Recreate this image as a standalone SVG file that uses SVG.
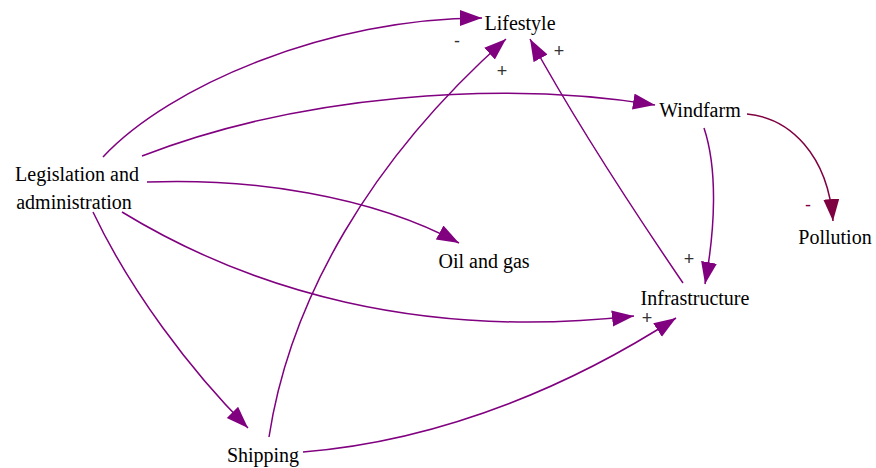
<svg xmlns="http://www.w3.org/2000/svg" width="876" height="468" viewBox="0 0 876 468">
  <style>
    .edge { fill: none; stroke: #800080; stroke-width: 1.5; marker-end: url(#arrow); }
    .edge.neg { stroke: #7f0040; marker-end: url(#arrowDark); }
  </style>
  <defs>
    <marker id="arrow" markerUnits="userSpaceOnUse" markerWidth="24" markerHeight="18" refX="22" refY="8" orient="auto">
      <path d="M0,0 L22,8 L0,16 z" fill="#800080"/>
    </marker>
    <marker id="arrowDark" markerUnits="userSpaceOnUse" markerWidth="24" markerHeight="18" refX="22" refY="8" orient="auto">
      <path d="M0,0 L22,8 L0,16 z" fill="#7f0040"/>
    </marker>
  </defs>
  <rect width="876" height="468" fill="#fff"/>

  <g id="connectors">
    <path class="edge" d="M103,157 C170,85 330,18 482,18"/>
    <path class="edge" d="M142,156 C300,95 500,80 655,105"/>
    <path class="edge" d="M147,182 C250,178 370,195 459,243"/>
    <path class="edge" d="M122,212 C250,290 420,340 634,316"/>
    <path class="edge" d="M93,212 C130,290 190,370 248,428"/>
    <path class="edge" d="M269,437 C290,300 370,160 506,39"/>
    <path class="edge" d="M683,283 C640,220 580,130 530,39"/>
    <path class="edge" d="M704,128 C718,170 715,230 705,284"/>
    <path class="edge neg" d="M747,114 C790,118 828,155 833,221"/>
    <path class="edge" d="M303,452 C450,440 580,380 676,318"/>
    <g font-family="Liberation Sans, sans-serif" font-size="18" fill="#333" text-anchor="middle">
      <text x="457" y="47">-</text>
      <text x="502" y="77">+</text>
      <text x="559" y="57">+</text>
      <text x="689" y="265">+</text>
      <text x="647" y="324">+</text>
      <text x="808" y="211" fill="#7f0040">-</text>
    </g>
  </g>

  <g font-family="Liberation Serif, serif" font-size="20" fill="#000" text-anchor="middle">
    <g id="node-lifestyle"><text x="520" y="30" style="font-family:'Liberation Serif',serif">Lifestyle</text></g>
    <g id="node-windfarm"><text x="700" y="117" style="font-family:'Liberation Serif',serif">Windfarm</text></g>
    <g id="node-legislation"><text x="77" y="181" style="font-family:'Liberation Serif',serif">Legislation and</text><text x="74" y="209" style="font-family:'Liberation Serif',serif">administration</text></g>
    <g id="node-oilgas"><text x="484" y="268" style="font-family:'Liberation Serif',serif">Oil and gas</text></g>
    <g id="node-infrastructure"><text x="695" y="305" style="font-family:'Liberation Serif',serif">Infrastructure</text></g>
    <g id="node-pollution"><text x="835" y="244" style="font-family:'Liberation Serif',serif">Pollution</text></g>
    <g id="node-shipping"><text x="263" y="462" style="font-family:'Liberation Serif',serif">Shipping</text></g>
  </g>
</svg>
